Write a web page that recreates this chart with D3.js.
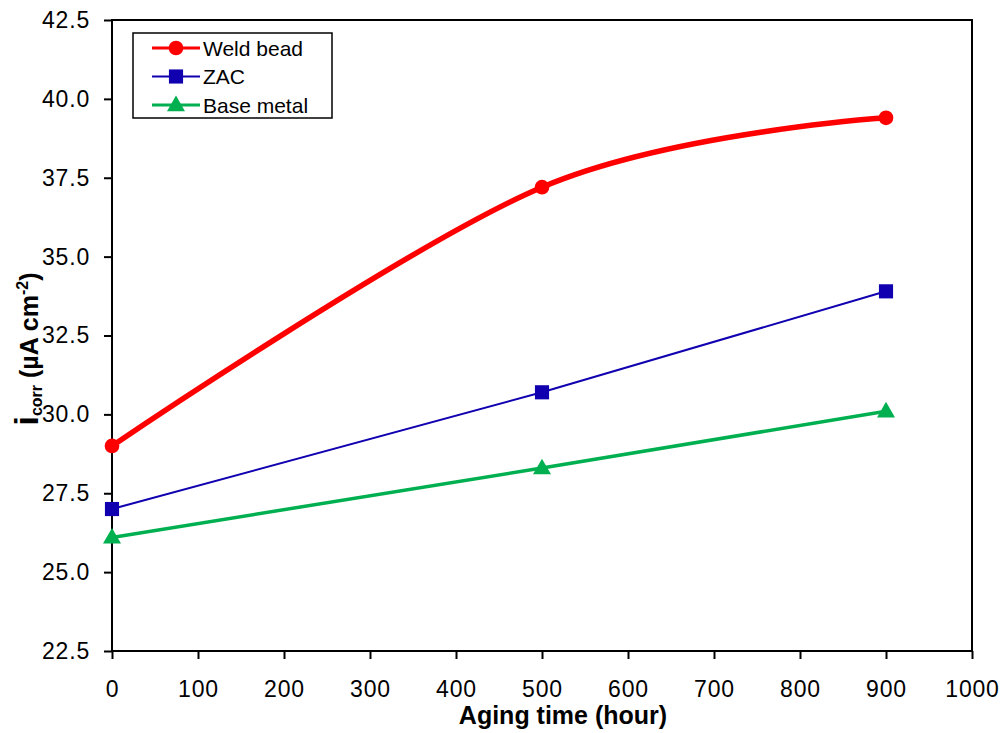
<!DOCTYPE html>
<html lang="en">
<head>
    <meta charset="UTF-8">
    <script src="https://cdnjs.cloudflare.com/ajax/libs/d3/7.8.5/d3.min.js" type="text/JavaScript"></script>
    <style>
        body { margin: 0; background: white; }
        text { font-family: Arial, "Liberation Sans", sans-serif; fill: black; }
        .tick text { font-size: 23px; letter-spacing: 0.8px; }
        .axis path, .axis line { stroke: black; stroke-width: 2px; }
    </style>
</head>
<body>
<svg id="chart" width="1001" height="733"></svg>
<script>
    const hours = [0, 500, 900];
    const weldBead = [29.0, 37.2, 39.4];
    const zac = [27.0, 30.7, 33.9];
    const baseMetal = [26.1, 28.3, 30.1];
    const xTicks = [0, 100, 200, 300, 400, 500, 600, 700, 800, 900, 1000];
    const yTicks = [22.5, 25.0, 27.5, 30.0, 32.5, 35.0, 37.5, 40.0, 42.5];

    const series = [
        {name: "Weld bead", values: weldBead, color: "#ff0000", width: 5.5, marker: "circle", smooth: true},
        {name: "ZAC", values: zac, color: "#1100b0", width: 2, marker: "square", smooth: false},
        {name: "Base metal", values: baseMetal, color: "#00b050", width: 3.5, marker: "triangle", smooth: false}
    ];

    const svg = d3.select("#chart");
    const plotL = 112, plotR = 972, plotT = 20, plotB = 651;

    const x = d3.scaleLinear().domain([0, 1000]).range([plotL, plotR]);
    const y = d3.scaleLinear().domain([22.5, 42.5]).range([plotB, plotT]);

    // frame
    svg.append("rect")
        .attr("x", plotL).attr("y", plotT)
        .attr("width", plotR - plotL).attr("height", plotB - plotT)
        .attr("fill", "none").attr("stroke", "black").attr("stroke-width", 2);

    const xAxis = svg.append("g")
        .attr("class", "axis")
        .attr("transform", `translate(0, ${plotB})`)
        .call(d3.axisBottom(x).tickValues(xTicks).tickSize(8).tickPadding(22).tickFormat(d3.format("d")));
    xAxis.select(".domain").remove();

    const yAxis = svg.append("g")
        .attr("class", "axis")
        .attr("transform", `translate(${plotL}, 0)`)
        .call(d3.axisLeft(y).tickValues(yTicks).tickSize(8).tickPadding(14).tickFormat(d3.format(".1f")));
    yAxis.select(".domain").remove();

    // axis titles
    svg.append("text")
        .attr("x", 563).attr("y", 724)
        .attr("text-anchor", "middle")
        .style("font-size", "25px").style("font-weight", "bold")
        .text("Aging time (hour)");

    const yTitle = svg.append("text")
        .attr("transform", "translate(38, 349) rotate(-90)")
        .attr("text-anchor", "middle")
        .style("font-weight", "bold").style("font-size", "25px");
    yTitle.append("tspan").style("font-size", "34px").text("i");
    yTitle.append("tspan").style("font-size", "16px").attr("dy", 4).text("corr");
    yTitle.append("tspan").attr("dy", -4).text("  (µA cm");
    yTitle.append("tspan").style("font-size", "16px").attr("dy", -10).text("-2");
    yTitle.append("tspan").attr("dy", 10).text(")");

    const symbolOf = {
        circle: d3.symbol().type(d3.symbolCircle).size(170),
        square: d3.symbol().type(d3.symbolSquare).size(200),
        triangle: d3.symbol().type(d3.symbolTriangle).size(140)
    };

    series.forEach(s => {
        const pts = hours.map((h, i) => [h, s.values[i]]);
        const line = d3.line()
            .x(d => x(d[0]))
            .y(d => y(d[1]))
            .curve(s.smooth ? d3.curveCardinal.tension(0) : d3.curveLinear);
        svg.append("path")
            .datum(pts)
            .attr("d", line)
            .attr("fill", "none")
            .attr("stroke", s.color)
            .attr("stroke-width", s.width)
            .attr("stroke-linejoin", "round");
        svg.selectAll(null)
            .data(pts)
            .enter()
            .append("path")
            .attr("d", symbolOf[s.marker])
            .attr("transform", d => `translate(${x(d[0])}, ${y(d[1]) + (s.marker === "triangle" ? 1 : 0)})`)
            .attr("fill", s.color);
    });

    // legend
    const legend = svg.append("g").attr("transform", "translate(133, 33)");
    legend.append("rect")
        .attr("width", 199).attr("height", 85)
        .attr("fill", "white").attr("stroke", "black").attr("stroke-width", 1.5);
    series.forEach((s, i) => {
        const ly = 15 + i * 28.5;
        legend.append("line")
            .attr("x1", 19).attr("x2", 67).attr("y1", ly).attr("y2", ly)
            .attr("stroke", s.color).attr("stroke-width", s.marker === "square" ? 2 : 3);
        legend.append("path")
            .attr("d", symbolOf[s.marker])
            .attr("transform", `translate(43, ${ly + (s.marker === "triangle" ? 1 : 0)})`)
            .attr("fill", s.color);
        legend.append("text")
            .attr("x", 70).attr("y", ly + 7.5)
            .style("font-size", "21px")
            .text(s.name);
    });
</script>
</body>
</html>
